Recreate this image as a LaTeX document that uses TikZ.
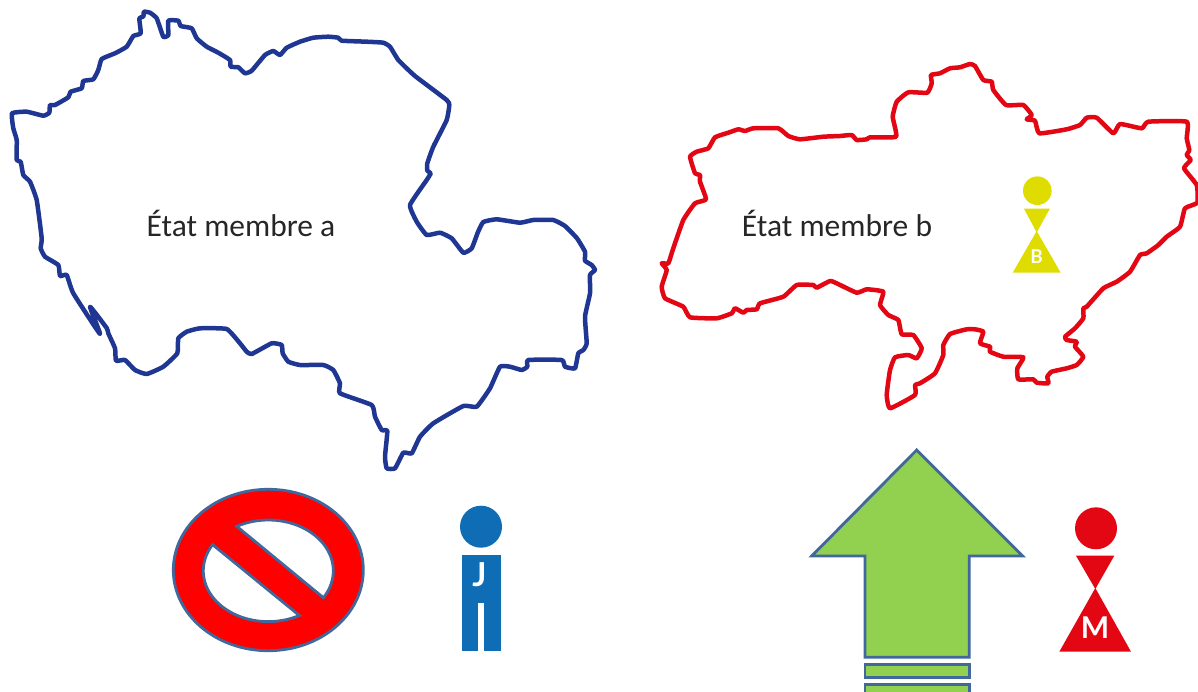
\documentclass[tikz,border=0pt]{standalone}
\usepackage{fontspec}
\setmainfont{Carlito}
\newfontfamily\iconfont{Lato}
\definecolor{bluemap}{HTML}{1F3792}
\definecolor{redmap}{HTML}{E30613}
\definecolor{edgeblue}{HTML}{41689C}
\definecolor{nored}{HTML}{FF0000}
\definecolor{arrowgreen}{HTML}{92D050}
\definecolor{jblue}{HTML}{0F6DB5}
\definecolor{byellow}{HTML}{DEDC00}
\tikzset{
  mapline/.style={line width=4.5pt,line join=round},
  shapeedge/.style={draw=edgeblue,line width=2.8pt,line join=miter},
  label/.style={anchor=base,text=black!85,font=\fontsize{31.5}{33}\selectfont,inner sep=0pt},
  badge/.style={anchor=center,text=white,inner sep=0pt},
}
\begin{document}
\begin{tikzpicture}[x=1pt,y=-1pt]
\useasboundingbox (0,0) rectangle (1198,691);
% member state a
\draw[mapline,draw=bluemap] plot[smooth cycle,tension=0.25] coordinates {
(12,113.3)(26.7,111.7)(43.3,115.7)(49.3,112.7)(50,105)(55,105)(68.3,97.3)(70.7,91.7)(81.7,88.3)(83.3,81)(93.3,79.3)(98.3,70)(101.7,59)(115,53.3)(126.7,46.7)(133.3,36)(140.7,33.3)(139.3,18.3)(143.3,16.7)(144,11.7)(150,12.7)(156.7,18.3)(163.3,36.7)(168.3,35)(168.3,20.7)(178.3,20.7)(180.7,26)(191.7,28.3)(196.7,38.3)(206.7,46.7)(218.3,52.7)(230,60)(230.7,66.7)(238.3,67.3)(245,73.3)(251.7,70.7)(265,55)(273.3,51)(280,55)(286.7,47.7)(300,41.7)
(313.3,37.7)(328.3,36.7)(338.3,37.7)(341.7,40.7)(366.7,41.7)(383.3,42.7)(390,46.7)(398.3,60)(415,76)(446.7,100)(449.3,105)(446.7,120)(433.3,146.7)(427.3,163.3)(427.3,170.7)(430.7,173.3)(426.7,180)(410,205)(416.7,221.7)(426.7,235)(440,232.7)(451.7,238.3)(463.3,252.7)(471.7,248.3)(478,232)(483.3,222)
(496.7,219.3)(520,222.7)(533.3,220)(553.3,220)(565,226)(577,238.3)(585,251.7)(585,260.7)(591.7,265)(595,270)(590,275)(590,293.3)(585,316.7)(586.7,343.3)(583.3,350)(578.3,353.3)(575,368.3)(565,366.7)(561.7,360)(528.3,360)(527.3,366.7)(521.7,370)(510,366.7)(500,366.7)(490,388.3)(476.7,406.7)(463.3,406)(433.3,423.3)(420,436.7)(411.7,453.3)(403.3,452.7)(395,468.3)(386.7,468.3)(385,456.7)(387.3,431)(381.7,430)(375,416.7)(371.7,405)(340,393.3)(340,383.3)(333.3,370)(323.3,365)(300,365)
(288.3,361.7)(282.7,353.3)(281.7,345)(271.7,343.3)(251.7,354)(246.7,351.7)(240,343.3)(226.7,329)(200,328.3)(186.7,331.7)(178.3,338.3)(177.3,353.3)(163.3,366.7)(146.7,374)(135,370)(125,360)(116,360.7)(115,348.3)(108.3,333.3)(106.7,328)(90,306.7)(100,334)(73.3,293.3)(66.7,275)(60,276)(58.3,265)(45,256.7)(40.7,248.3)(41.7,238.3)(36.7,200)(30,181.7)(23.3,175)(20.7,161.7)(16.7,160)(16.7,140)(13.3,128.3)
};
% member state b
\draw[mapline,draw=redmap] plot[smooth cycle,tension=0.25] coordinates {
(672.7,250)(683.3,220)(695,203.3)(706,199.3)(700,181.7)(700,175)(695,173.3)(690,156.7)(696.7,151.7)(708.3,148.3)(715,137.3)(728.3,132.7)(738.3,129.3)(745,131)(753.3,128.3)(778.3,128.3)(788.3,136)(800,139.3)(823.3,136.7)(840,136)(851.7,135)(856.7,140)(866.7,139.3)(870,137.3)(896,136.7)(892.7,116.7)(896.7,101.7)(908.3,92.3)(927.3,92.7)(931.7,83.3)(931,75)(940,73.3)(950,68.3)(960,67.3)(970,64)(975,66)(983.3,80)(991.7,81.7)(993.3,90)(1006,105)(1023.3,105)(1031.7,115)(1026.7,119.3)(1035,120.7)(1039.3,133.3)(1066.7,129.3)(1080,125)(1086.7,117.7)(1096.7,117.7)(1113.3,133.3)(1120,124)(1141.7,128.3)(1148.3,121.7)(1186.7,121.7)(1186.7,138.3)(1189.3,150)(1186.7,155)(1190.7,160)(1184,168.3)(1196.7,185)(1197.3,202.7)(1185,208.3)(1180,226.7)(1166.7,236.7)(1158.3,245)
(1146.7,253.3)(1140,255)(1130,271.7)(1116.7,281.7)(1103.3,288.3)(1086.7,306.7)(1083.3,308.3)(1083.3,318.3)(1075,328.3)(1065,336.7)(1066.7,340)(1076.7,341.7)(1075,346.7)(1083.3,356.7)(1076.7,365)(1066.7,368.3)(1051.7,371.7)(1047.3,376.7)(1048.3,383.3)(1036.7,382.7)(1033.3,379.3)(1018.3,379.3)(1017.3,368.3)(1023.3,357.3)(1003.3,356.7)(990,351.7)(990,346.7)(980,343.3)(983.3,331.7)(975,329.3)(966.7,329.3)(950,334)(943.3,345)(943.3,355)(935,373.3)(920,383.3)
(915,385)(915,395)(890,408.3)(886.7,395)(890,370)(895,357.3)(908.3,355)(916.7,358.3)(921.7,348.3)(913.3,335)(901.7,334.3)(898.3,320)(888.3,315)(880,305)(883.3,291.7)(866.7,289.3)(856.7,292.7)(836.7,283.3)(830,281)(816.7,287.7)(813.3,285)(796.7,285)(783.3,296.7)(760,303.3)(756.7,309.3)(746.7,310)(743.3,312.7)(735,308.3)(731.7,313.3)(716.7,318.3)(690,317.3)(683.3,306.7)(665,298.3)(661.7,286.7)(666.7,270)(661.7,263.3)(668.3,263.3)
};
\node[label] (labela) at (241,236) {État membre a};
\node[label] (labelb) at (837,236) {État membre b};
% B figure
\fill[byellow] (1037.3,190.7) circle[radius=14.3pt];
\fill[byellow] (1024,208.7) -- (1049.8,208.7) -- (1036.7,232.5) -- cycle;
\fill[byellow] (1036.7,231) -- (1060.7,272.7) -- (1012.7,272.7) -- cycle;
\node[badge,font=\iconfont\bfseries\fontsize{19}{20}\selectfont] (letterb) at (1036.5,257) {B};
% prohibition sign
\draw[shapeedge,fill=nored] (268.3,570) ellipse[x radius=95pt,y radius=80.7pt];
\draw[shapeedge,fill=white] plot[domain=119:-32,samples=60] ({268.3+65*cos(\x)},{570.8-50.8*sin(\x)}) -- cycle;
\draw[shapeedge,fill=white] plot[domain=149:298.5,samples=60] ({268.3+65*cos(\x)},{570.8-50.8*sin(\x)}) -- cycle;
% J figure
\fill[jblue] (481,526.7) circle[radius=21pt];
\fill[jblue] (461.7,555) rectangle (501,650.7);
\fill[white] (478.3,602.7) rectangle (484.3,651);
\node[badge,font=\iconfont\bfseries\fontsize{33}{35}\selectfont] (letterj) at (479.5,575) {J};
% arrow
\draw[shapeedge,fill=arrowgreen] (916.7,450) -- (1022.7,556) -- (969.3,556) -- (969.3,657.3) -- (865,657.3) -- (865,556) -- (811.7,556) -- cycle;
\draw[shapeedge,fill=arrowgreen] (865,664.5) rectangle (969.3,677.3);
\draw[shapeedge,fill=arrowgreen] (865,684.3) rectangle (969.3,695);
% M figure
\fill[redmap] (1096,528.3) circle[radius=21pt];
\fill[redmap] (1076,555.7) -- (1114.3,555.7) -- (1095.3,589) -- cycle;
\fill[redmap] (1095.3,588) -- (1131,651.7) -- (1059.3,651.7) -- cycle;
\node[badge,font=\iconfont\bfseries\fontsize{30}{32}\selectfont] (letterm) at (1095,628) {M};
\end{tikzpicture}
\end{document}
